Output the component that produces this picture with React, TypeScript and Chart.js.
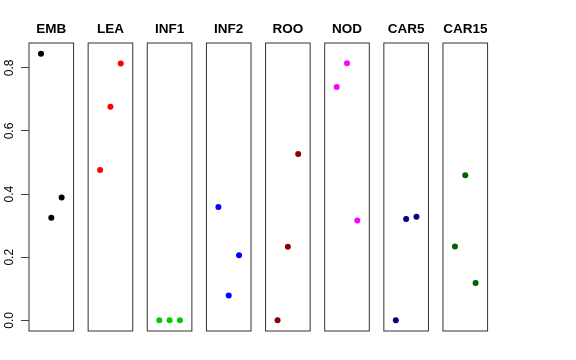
import React, { useEffect, useRef } from "react";
import { Chart, registerables } from "chart.js";

Chart.register(...registerables);

// ---- data ----
const panelNames = ["EMB", "LEA", "INF1", "INF2", "ROO", "NOD", "CAR5", "CAR15"];
const panelColors = ["#000000", "#FF0000", "#00CD00", "#0000FF", "#8B0000", "#FF00FF", "#00008B", "#006400"];
const xPositions = [1, 2, 3];
const embValues = [0.845, 0.325, 0.389];
const leaValues = [0.476, 0.677, 0.814];
const inf1Values = [0.0, 0.0, 0.0];
const inf2Values = [0.359, 0.079, 0.206];
const rooValues = [0.0, 0.233, 0.527];
const nodValues = [0.739, 0.815, 0.316];
const car5Values = [0.0, 0.321, 0.328];
const car15Values = [0.234, 0.46, 0.118];
const seriesValues = [embValues, leaValues, inf1Values, inf2Values, rooValues, nodValues, car5Values, car15Values];
const yTicks = [0.0, 0.2, 0.4, 0.6, 0.8];
const yTickLabels = ["0.0", "0.2", "0.4", "0.6", "0.8"];
const yMin = -0.0338;
const yMax = 0.8788;
const xMin = -0.16;
const xMax = 4.16;

// ---- layout ----
const FIRST_LEFT = 29;
const PITCH = 59.14;
const PANEL_W = 44.6;
const AREA_TOP = 43;
const AREA_BOTTOM = 331;
const H = 360;

const boxPlugin = {
  id: "panelBox",
  afterDraw(chart: any) {
    const { ctx, chartArea } = chart;
    ctx.save();
    ctx.strokeStyle = "#333333";
    ctx.lineWidth = 1;
    ctx.strokeRect(chartArea.left, chartArea.top, chartArea.right - chartArea.left, chartArea.bottom - chartArea.top);
    ctx.restore();
  },
};

function Panel({ index }: { index: number }) {
  const ref = useRef<HTMLCanvasElement | null>(null);
  const first = index === 0;
  const areaLeft = FIRST_LEFT + index * PITCH;
  const canvasLeft = first ? 0 : Math.round(areaLeft) - 8;
  const canvasWidth = first ? Math.round(areaLeft + PANEL_W) + 8 : 60;
  const padLeft = first ? 0 : areaLeft - canvasLeft;
  const padRight = canvasWidth - (areaLeft - canvasLeft) - PANEL_W;

  useEffect(() => {
    if (!ref.current) return;
    const lineHeight = 13.5 * 1.2;
    const titleTop = 29.5 - lineHeight / 2;
    const chart = new Chart(ref.current, {
      type: "scatter",
      data: {
        datasets: [
          {
            data: xPositions.map((x, i) => ({ x, y: seriesValues[index][i] })),
            backgroundColor: panelColors[index],
            borderColor: panelColors[index],
            borderWidth: 0,
            pointRadius: 3,
            pointHoverRadius: 3,
          },
        ],
      },
      options: {
        animation: false,
        responsive: false,
        maintainAspectRatio: false,
        events: [],
        layout: { padding: { left: padLeft, right: padRight, top: 0, bottom: H - AREA_BOTTOM } },
        plugins: {
          legend: { display: false },
          tooltip: { enabled: false },
          title: {
            display: true,
            fullSize: false,
            text: panelNames[index],
            color: "#000000",
            font: { family: "'Liberation Sans', Arial, sans-serif", size: 13.5, weight: "bold", lineHeight: 1.2 },
            padding: { top: titleTop, bottom: AREA_TOP - titleTop - lineHeight },
          },
        },
        scales: {
          x: { type: "linear", min: xMin, max: xMax, display: false },
          y: {
            type: "linear",
            min: yMin,
            max: yMax,
            display: first,
            afterBuildTicks: (s: any) => {
              s.ticks = yTicks.map((v) => ({ value: v }));
            },
            afterFit: (s: any) => {
              s.width = first ? FIRST_LEFT : 0;
            },
            border: { display: false },
            grid: {
              display: true,
              drawOnChartArea: false,
              drawTicks: true,
              tickLength: 8,
              color: "#444444",
              lineWidth: 1,
            },
            ticks: {
              autoSkip: false,
              minRotation: 90,
              maxRotation: 90,
              crossAlign: "center",
              padding: 3,
              color: "#000000",
              font: { family: "'Liberation Sans', Arial, sans-serif", size: 12 },
              callback: (v: any) => {
                const i = yTicks.findIndex((t) => Math.abs(t - Number(v)) < 1e-9);
                return i >= 0 ? yTickLabels[i] : "";
              },
            },
          },
        },
      },
      plugins: [boxPlugin],
    });
    return () => chart.destroy();
  }, [index]);

  return (
    <canvas
      ref={ref}
      width={canvasWidth}
      height={H}
      style={{ position: "absolute", left: canvasLeft, top: 0, width: canvasWidth, height: H }}
    />
  );
}

export default function App() {
  return (
    <div style={{ position: "absolute", left: 0, top: 0, width: 576, height: 360, background: "#ffffff" }}>
      {panelNames.map((_, i) => (
        <Panel key={i} index={i} />
      ))}
    </div>
  );
}
